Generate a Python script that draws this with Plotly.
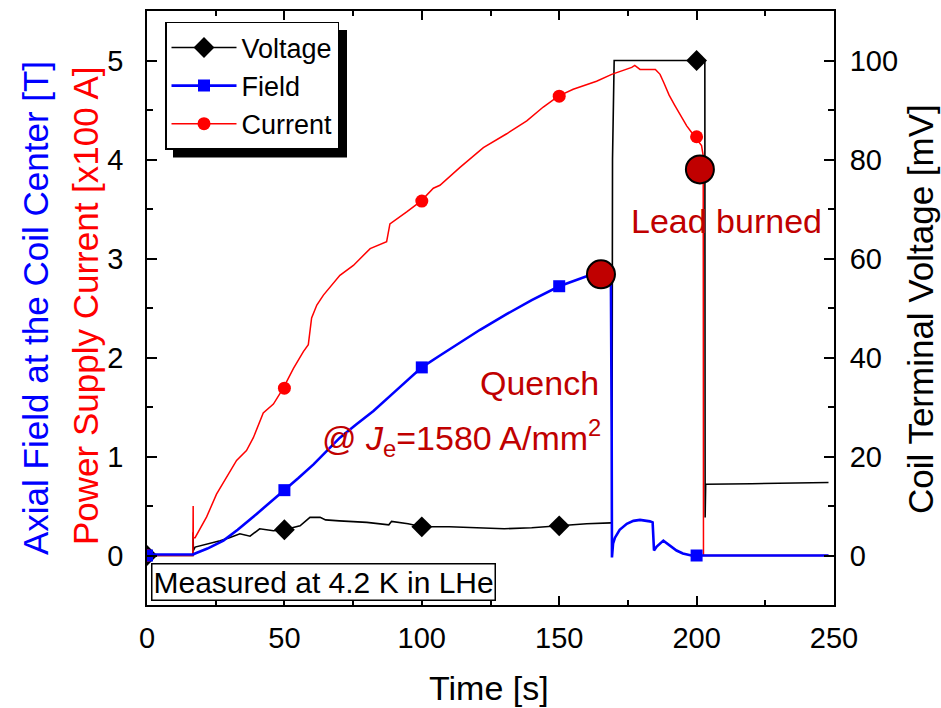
import plotly.graph_objects as go

# ---------------- data ----------------
time_current = [0, 16.7, 16.8, 16.85, 17.5, 21.7, 25.3, 29.0, 32.6, 36.2, 38.7, 42.3, 46.0, 49.6,
                53.3, 56.9, 58.7, 59.9, 61.8, 64.2, 70.2, 75.1, 81.2, 87.2, 88.4, 94.5, 99.7,
                104.2, 106.6, 113.9, 122.4, 130.9, 138.2, 144.2, 149.7, 155.1, 163.6, 169.1,
                176.4, 177.5, 179.4, 185.0, 186.7, 188.0, 190.0, 192.0, 194.0, 196.4, 198.0,
                199.4, 201.8, 202.4, 202.5, 248.0]
current = [0, 0, 0.50, 0.18, 0.18, 0.39, 0.62, 0.79, 0.96, 1.06, 1.19, 1.44, 1.53, 1.69,
           1.89, 2.06, 2.13, 2.40, 2.53, 2.63, 2.83, 2.93, 3.10, 3.17, 3.35, 3.47, 3.58,
           3.71, 3.74, 3.92, 4.12, 4.26, 4.39, 4.53, 4.64, 4.71, 4.79, 4.86,
           4.93, 4.95, 4.91, 4.91, 4.86, 4.78, 4.65, 4.55, 4.45, 4.34, 4.28,
           4.23, 4.14, 4.04, 0.0, 0.0]

time_field = [0, 16.8, 17.5, 22.0, 27.8, 33.0, 39.9, 45.0, 50.0, 55.0, 60.6, 65.0, 70.2, 76.0,
              82.4, 90.0, 95.0, 100.0, 106.6, 112.7, 121.2, 131.0, 140.0, 150.0, 155.0, 160.0,
              165.0, 168.8, 169.1, 169.2, 169.6, 170.3, 172.0, 174.6, 177.0, 179.4, 183.0,
              184.0, 184.5, 185.5, 187.9, 190.0, 192.7, 195.0, 198.1, 200.0, 248.0]
field = [0.01, 0.01, 0.02, 0.07, 0.15, 0.26, 0.42, 0.54, 0.66, 0.78, 0.92, 1.04, 1.19, 1.32,
         1.46, 1.65, 1.78, 1.90, 2.02, 2.13, 2.28, 2.44, 2.58, 2.72, 2.77, 2.82,
         2.86, 2.88, 1.20, -0.02, 0.12, 0.18, 0.26, 0.32, 0.35, 0.36, 0.345,
         0.335, 0.05, 0.09, 0.15, 0.11, 0.05, 0.02, 0.0, 0.0, 0.0]

time_voltage = [0, 16.7, 16.8, 16.85, 17.5, 22.0, 26.6, 30.0, 33.8, 37.5, 41.0, 46.0, 50.0, 55.7,
                59.3, 63.0, 65.0, 70.0, 80.0, 88.0, 89.0, 95.0, 100.0, 110.0, 120.0, 130.0,
                140.0, 150.0, 160.0, 168.8, 169.2, 169.4, 170.0, 203.0, 203.1, 203.3, 220.0,
                235.0, 248.0]
voltage = [0, 0, 4.7, 1.0, 1.7, 2.3, 3.0, 3.6, 4.4, 3.9, 5.4, 5.0, 5.2, 6.0,
           7.7, 7.7, 7.2, 7.0, 6.7, 6.2, 6.9, 6.4, 5.8, 5.8, 5.6, 5.4,
           5.6, 6.0, 6.4, 6.6, 6.6, 80.0, 100.0, 100.0, 7.7, 14.4, 14.5,
           14.6, 14.75]

marker_t = [0, 50, 100, 150, 200]
voltage_markers = [0, 5.2, 5.8, 6.0, 100]
field_markers = [0.0, 0.66, 1.90, 2.72, 0.0]
current_markers = [0.0, 1.69, 3.58, 4.64, 4.23]

event_t = [165.2, 201.2]
event_v = [2.84, 3.90]

x_ticks = [0, 50, 100, 150, 200, 250]
left_ticks = [0, 1, 2, 3, 4, 5]
right_ticks = [0, 20, 40, 60, 80, 100]

# ---------------- styling ----------------
FONT = "Arial, Liberation Sans, sans-serif"
BLACK = "#000000"
BLUE = "#0000FF"
RED = "#FF0000"
DARKRED = "#C00000"

fig = go.Figure()

fig.add_trace(go.Scatter(x=time_voltage, y=voltage, mode="lines", yaxis="y",
                         line=dict(color=BLACK, width=1.6), showlegend=False, hoverinfo="skip"))
fig.add_trace(go.Scatter(x=marker_t, y=voltage_markers, mode="markers", yaxis="y",
                         marker=dict(symbol="diamond", size=16, color=BLACK),
                         showlegend=False, hoverinfo="skip"))

fig.add_trace(go.Scatter(x=time_current, y=current, mode="lines", yaxis="y2",
                         line=dict(color=RED, width=1.5), showlegend=False, hoverinfo="skip"))
fig.add_trace(go.Scatter(x=marker_t, y=current_markers, mode="markers", yaxis="y2",
                         marker=dict(symbol="circle", size=13, color=RED),
                         showlegend=False, hoverinfo="skip"))

fig.add_trace(go.Scatter(x=time_field, y=field, mode="lines", yaxis="y2",
                         line=dict(color=BLUE, width=2.6), showlegend=False, hoverinfo="skip"))
fig.add_trace(go.Scatter(x=marker_t, y=field_markers, mode="markers", yaxis="y2",
                         marker=dict(symbol="square", size=12, color=BLUE),
                         showlegend=False, hoverinfo="skip"))

fig.add_trace(go.Scatter(x=event_t, y=event_v, mode="markers", yaxis="y2",
                         marker=dict(symbol="circle", size=28, color=DARKRED,
                                     line=dict(color=BLACK, width=2)),
                         showlegend=False, hoverinfo="skip"))

# legend-only entries
fig.add_trace(go.Scatter(x=[None], y=[None], mode="lines+markers", name="Voltage",
                         line=dict(color=BLACK, width=1.6),
                         marker=dict(symbol="diamond", size=16, color=BLACK)))
fig.add_trace(go.Scatter(x=[None], y=[None], mode="lines+markers", name="Field",
                         line=dict(color=BLUE, width=2.6),
                         marker=dict(symbol="square", size=12, color=BLUE)))
fig.add_trace(go.Scatter(x=[None], y=[None], mode="lines+markers", name="Current",
                         line=dict(color=RED, width=1.5),
                         marker=dict(symbol="circle", size=13, color=RED)))

L, R, T, B = 147, 107, 9, 103
W, H = 941, 708
pw, ph = W - L - R, H - T - B

def px(xp):
    return (xp - L) / pw

def py(yp):
    return (H - B - yp) / ph

axis_common = dict(showgrid=False, zeroline=False, showline=True, linecolor=BLACK, linewidth=1.8,
                   ticks="inside", tickcolor=BLACK, tickwidth=1.5,
                   tickfont=dict(family=FONT, size=29, color=BLACK))

fig.update_layout(
    width=W, height=H,
    margin=dict(l=L, r=R, t=T, b=B),
    paper_bgcolor="white", plot_bgcolor="white",
    font=dict(family=FONT, color=BLACK),
    xaxis=dict(range=[0, 250], tickvals=x_ticks, ticklen=9, mirror="ticks",
               minor=dict(dtick=25, ticks="inside", ticklen=5, tickcolor=BLACK, tickwidth=1.5),
               ticklabelstandoff=6, **axis_common),
    yaxis=dict(range=[-10, 110], side="right", tickvals=right_ticks, ticklen=10,
               minor=dict(dtick=10, ticks="inside", ticklen=6, tickcolor=BLACK, tickwidth=1.5),
               ticklabelstandoff=8, **axis_common),
    yaxis2=dict(range=[-0.5, 5.5], side="left", overlaying="y", tickvals=left_ticks, ticklen=10,
                minor=dict(dtick=0.5, ticks="inside", ticklen=6, tickcolor=BLACK, tickwidth=1.5),
                ticklabelstandoff=16, **axis_common),
    legend=dict(x=px(165), y=py(20), xanchor="left", yanchor="top",
                bgcolor="white", bordercolor=BLACK, borderwidth=1.5, itemwidth=65,
                font=dict(family=FONT, size=27, color=BLACK)),
    showlegend=True,
)

# legend shadow
fig.add_shape(type="rect", xref="paper", yref="paper",
              x0=px(173), x1=px(347), y0=py(156), y1=py(28),
              fillcolor=BLACK, line=dict(width=0), layer="above")

annots = [
    dict(text="Axial Field at the Coil Center [T]", x=px(35), y=py(307), color=BLUE, angle=-90, size=35),
    dict(text="Power Supply Current [x100 A]", x=px(85), y=py(305), color=RED, angle=-90, size=35),
    dict(text="Coil Terminal Voltage [mV]", x=px(921), y=py(308), color=BLACK, angle=-90, size=35),
    dict(text="Time [s]", x=px(489), y=py(688), color=BLACK, angle=0, size=34),
]
for a in annots:
    fig.add_annotation(text=a["text"], xref="paper", yref="paper", x=a["x"], y=a["y"],
                       xanchor="center", yanchor="middle", showarrow=False, textangle=a["angle"],
                       font=dict(family=FONT, size=a["size"], color=a["color"]))

fig.add_annotation(text="Quench", xref="paper", yref="paper", x=px(601), y=py(382),
                   xanchor="right", yanchor="middle", showarrow=False,
                   font=dict(family=FONT, size=34, color=DARKRED))
fig.add_annotation(text="@ <i>J</i><sub>e</sub>=1580 A/mm<sup>2</sup>", xref="paper", yref="paper",
                   x=px(603), y=py(437), xanchor="right", yanchor="middle", showarrow=False,
                   font=dict(family=FONT, size=34, color=DARKRED))
fig.add_annotation(text="Lead burned", xref="paper", yref="paper", x=px(726), y=py(220),
                   xanchor="center", yanchor="middle", showarrow=False,
                   font=dict(family=FONT, size=34, color=DARKRED))
fig.add_annotation(text="Measured at 4.2 K in LHe", xref="paper", yref="paper",
                   x=px(151), y=py(601), xanchor="left", yanchor="bottom", showarrow=False,
                   bgcolor="white", bordercolor=BLACK, borderwidth=1.5, borderpad=1,
                   font=dict(family=FONT, size=30, color=BLACK))

fig.write_html("out.html", config={"displayModeBar": False},
               post_script="document.body.style.margin='0px';")
